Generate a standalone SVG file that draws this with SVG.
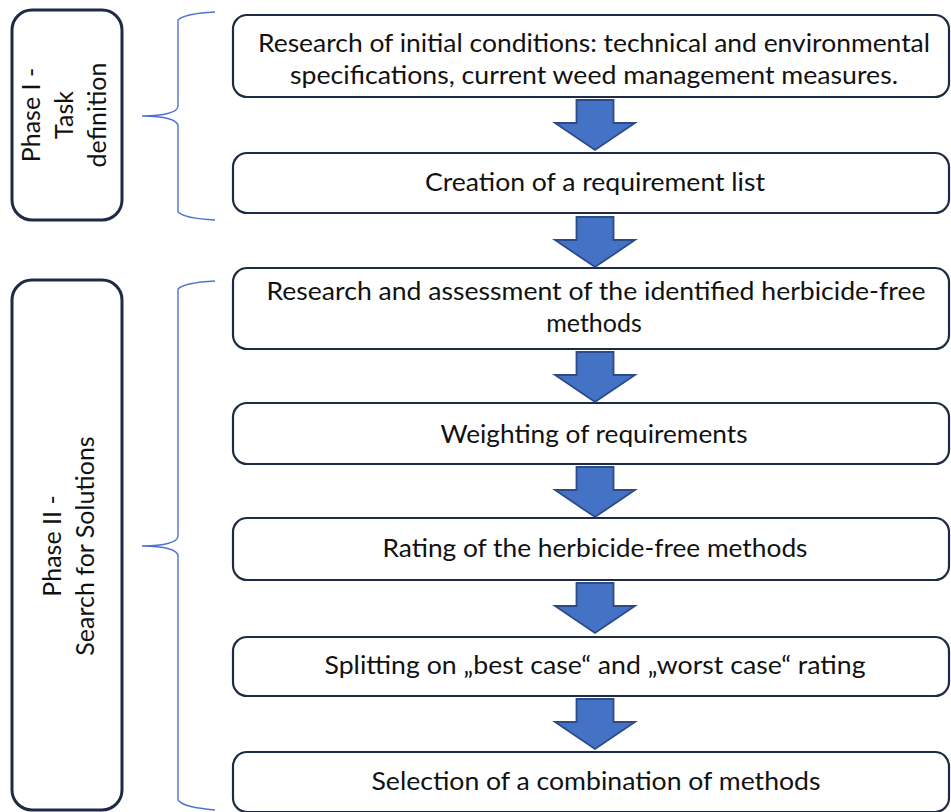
<svg xmlns="http://www.w3.org/2000/svg" width="951" height="812" viewBox="0 0 951 812">
  <style>
    .box { fill: #ffffff; stroke: #1f2b45; stroke-width: 2.2; }
    .phase { fill: #ffffff; stroke: #1f2b45; stroke-width: 3; }
    .brace { fill: none; stroke: #4f74d0; stroke-width: 1.4; }
    .arrow { fill: #4472c4; stroke: #2b4a86; stroke-width: 1.8; stroke-linejoin: miter; }
    text { font-family: Lato, "Open Sans", "Liberation Sans", sans-serif; font-size: 25px; fill: #111111; }
  </style>
  <defs>
    <!-- block arrow, 80 wide and 50 tall, origin at top centre -->
    <path id="down" class="arrow" d="M-18.5,0 H18.5 V23 H40 L0,50 L-40,23 H-18.5 Z"/>
  </defs>

  <rect width="951" height="812" fill="#ffffff"/>

  <!-- phase labels -->
  <g id="phase1">
    <rect class="phase" x="12" y="10" width="110" height="210" rx="20"/>
    <text transform="translate(40,115) rotate(-90)" text-anchor="middle">Phase I -</text>
    <text transform="translate(73,115) rotate(-90)" text-anchor="middle">Task</text>
    <text transform="translate(106,115) rotate(-90)" text-anchor="middle">definition</text>
  </g>
  <g id="phase2">
    <rect class="phase" x="12" y="280" width="110" height="530" rx="20"/>
    <text transform="translate(61,546) rotate(-90)" text-anchor="middle">Phase II -</text>
    <text transform="translate(94,546) rotate(-90)" text-anchor="middle">Search for Solutions</text>
  </g>

  <!-- braces grouping the steps of each phase -->
  <g id="braces">
    <path class="brace" d="M215,12 C195,13 183,15 178,20 V106 C178,112 165,116 142,116 C165,116 178,120 178,126 V212 C183,217 195,219 215,220"/>
    <path class="brace" d="M215,281 C195,282 183,284 178,289 V536 C178,542 165,546 142,546 C165,546 178,550 178,556 V800 C183,806 195,808 215,810"/>
  </g>

  <!-- process steps -->
  <g id="step1">
    <rect class="box" x="233" y="15" width="716" height="82" rx="14"/>
    <text x="594" y="52" text-anchor="middle" textLength="672" lengthAdjust="spacingAndGlyphs">Research of initial conditions: technical and environmental</text>
    <text x="594" y="84" text-anchor="middle" textLength="608" lengthAdjust="spacingAndGlyphs">specifications, current weed management measures.</text>
  </g>
  <g id="step2">
    <rect class="box" x="233" y="153" width="716" height="60" rx="14"/>
    <text x="595" y="191" text-anchor="middle" textLength="340" lengthAdjust="spacingAndGlyphs">Creation of a requirement list</text>
  </g>
  <g id="step3">
    <rect class="box" x="233" y="268" width="716" height="81" rx="14"/>
    <text x="596" y="300" text-anchor="middle" textLength="659" lengthAdjust="spacingAndGlyphs">Research and assessment of the identified herbicide-free</text>
    <text x="594" y="332" text-anchor="middle">methods</text>
  </g>
  <g id="step4">
    <rect class="box" x="233" y="403" width="716" height="61" rx="14"/>
    <text x="594" y="443" text-anchor="middle" textLength="307" lengthAdjust="spacingAndGlyphs">Weighting of requirements</text>
  </g>
  <g id="step5">
    <rect class="box" x="233" y="518" width="716" height="62" rx="14"/>
    <text x="595" y="557" text-anchor="middle" textLength="425" lengthAdjust="spacingAndGlyphs">Rating of the herbicide-free methods</text>
  </g>
  <g id="step6">
    <rect class="box" x="233" y="637" width="716" height="59" rx="14"/>
    <text x="595" y="674" text-anchor="middle" textLength="541" lengthAdjust="spacingAndGlyphs">Splitting on „best case“ and „worst case“ rating</text>
  </g>
  <g id="step7">
    <rect class="box" x="233" y="752" width="716" height="60" rx="14"/>
    <text x="596" y="790" text-anchor="middle" textLength="449" lengthAdjust="spacingAndGlyphs">Selection of a combination of methods</text>
  </g>

  <!-- connectors -->
  <g id="connectors">
    <use href="#down" x="595" y="100"/>
    <use href="#down" x="595" y="217"/>
    <use href="#down" x="595" y="352"/>
    <use href="#down" x="595" y="467"/>
    <use href="#down" x="595" y="583"/>
    <use href="#down" x="595" y="699"/>
  </g>
</svg>
